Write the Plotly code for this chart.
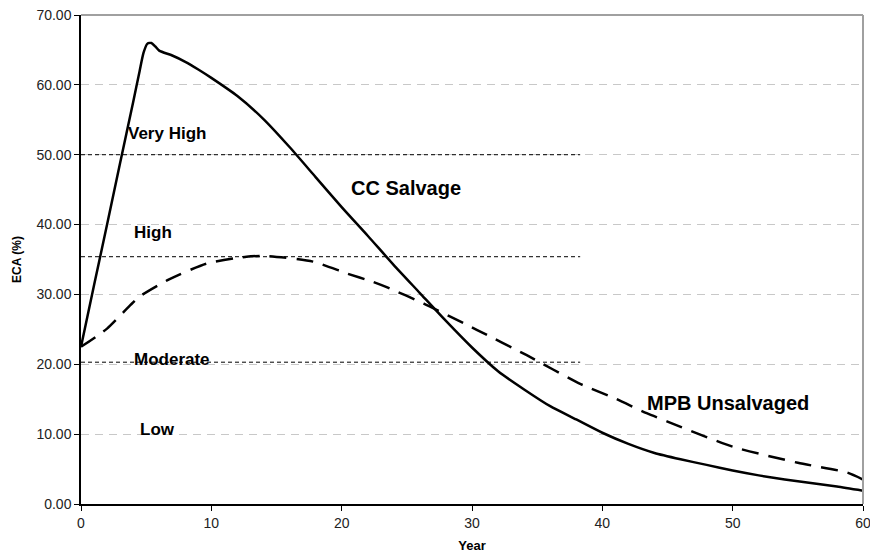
import plotly.graph_objects as go

# CC Salvage (solid)
cc_year = [0, 1, 2, 3, 4, 4.5, 4.8, 5.1, 5.4, 5.7, 6, 7, 8, 9, 10, 12, 14, 16, 18, 20, 22, 24, 26, 28, 30,
           32, 34, 36, 38, 40, 42, 44, 46, 48, 50, 52, 54, 56, 58, 60]
cc_eca = [22.5, 31.3, 40.0, 48.8, 57.5, 62.0, 64.6, 65.9, 66.0, 65.5, 64.9, 64.2, 63.3, 62.2, 61.0, 58.4, 55.1, 51.1, 46.8, 42.5, 38.4, 34.2, 30.2, 26.2, 22.4,
          19.0, 16.4, 14.0, 12.1, 10.2, 8.6, 7.3, 6.4, 5.6, 4.8, 4.1, 3.5, 3.0, 2.5, 1.9]

# MPB Unsalvaged (dashed)
mpb_year = [0, 2, 3.8, 4.5, 6.6, 9.6, 12.7, 14.3, 17.8, 20.4, 22.4, 23.5, 26.3, 30.4, 34.2, 38.3, 41, 43.4, 45,
            50, 55, 58.8, 60]
mpb_eca = [22.5, 25.1, 28.5, 29.7, 32.0, 34.4, 35.4, 35.5, 34.7, 33.0, 31.8, 31.0, 28.7, 24.9, 21.3, 17.2, 15.1, 13.0, 11.8,
           8.2, 5.9, 4.5, 3.5]

# class thresholds
threshold_values = [50.0, 35.4, 20.3]
threshold_end = 38.3

class_labels = ["Very High", "High", "Moderate", "Low"]
class_label_x = [6.56, 5.5, 7.0, 5.87]
class_label_y = [53.1, 38.9, 20.7, 10.6]

series_labels = ["CC Salvage", "MPB Unsalvaged"]
series_label_x = [24.9, 49.65]
series_label_y = [45.3, 14.4]

y_ticks = [0, 10, 20, 30, 40, 50, 60, 70]
x_ticks = [0, 10, 20, 30, 40, 50, 60]

FONT = "Liberation Sans, Arial, sans-serif"

fig = go.Figure()

for tv in threshold_values:
    fig.add_trace(go.Scatter(x=[0, threshold_end], y=[tv, tv], mode="lines",
                             line=dict(color="black", width=1, dash="4px,3px"),
                             hoverinfo="skip", showlegend=False))

fig.add_trace(go.Scatter(x=cc_year, y=cc_eca, mode="lines", name="CC Salvage",
                         line=dict(color="black", width=2.5, shape="spline", smoothing=0.6),
                         showlegend=False))
fig.add_trace(go.Scatter(x=mpb_year, y=mpb_eca, mode="lines", name="MPB Unsalvaged",
                         line=dict(color="black", width=2.5, dash="17px,10px", shape="spline", smoothing=0.6),
                         showlegend=False))

for t, x, y in zip(class_labels, class_label_x, class_label_y):
    fig.add_annotation(x=x, y=y, text="<b>%s</b>" % t, showarrow=False,
                       font=dict(family=FONT, size=17, color="black"))
for t, x, y in zip(series_labels, series_label_x, series_label_y):
    fig.add_annotation(x=x, y=y, text="<b>%s</b>" % t, showarrow=False,
                       font=dict(family=FONT, size=20, color="black"))

# plot area border (top, right)
fig.add_shape(type="line", xref="paper", yref="paper", x0=0, x1=1, y0=1, y1=1,
              line=dict(color="#a0a0a0", width=2))
fig.add_shape(type="line", xref="paper", yref="paper", x0=1, x1=1, y0=0, y1=1,
              line=dict(color="#a0a0a0", width=2))

fig.update_layout(
    width=870, height=554,
    margin=dict(l=81, r=7, t=15, b=50),
    paper_bgcolor="white", plot_bgcolor="white",
    font=dict(family=FONT, size=14, color="#222222"),
    xaxis=dict(range=[0, 60], tickvals=x_ticks, ticktext=[str(v) for v in x_ticks],
               automargin=False, ticklabeloverflow="allow",
               showgrid=False, zeroline=False, showline=True, linecolor="black", linewidth=1.5,
               ticks="outside", ticklen=5, tickcolor="black",
               title=dict(text="<b>Year</b>", font=dict(size=13, color="black"), standoff=11)),
    yaxis=dict(range=[0, 70], tickvals=y_ticks, ticktext=["%.2f" % v for v in y_ticks],
               automargin=False, ticklabeloverflow="allow",
               showgrid=True, gridcolor="#c8c8c8", griddash="8px,6px", gridwidth=1,
               zeroline=False, showline=True, linecolor="black", linewidth=1.5,
               ticks="outside", ticklen=5, tickcolor="black",
               title=dict(text="<b>ECA (%)</b>", font=dict(size=12, color="black"), standoff=12)),
)

fig.write_html("out.html")
